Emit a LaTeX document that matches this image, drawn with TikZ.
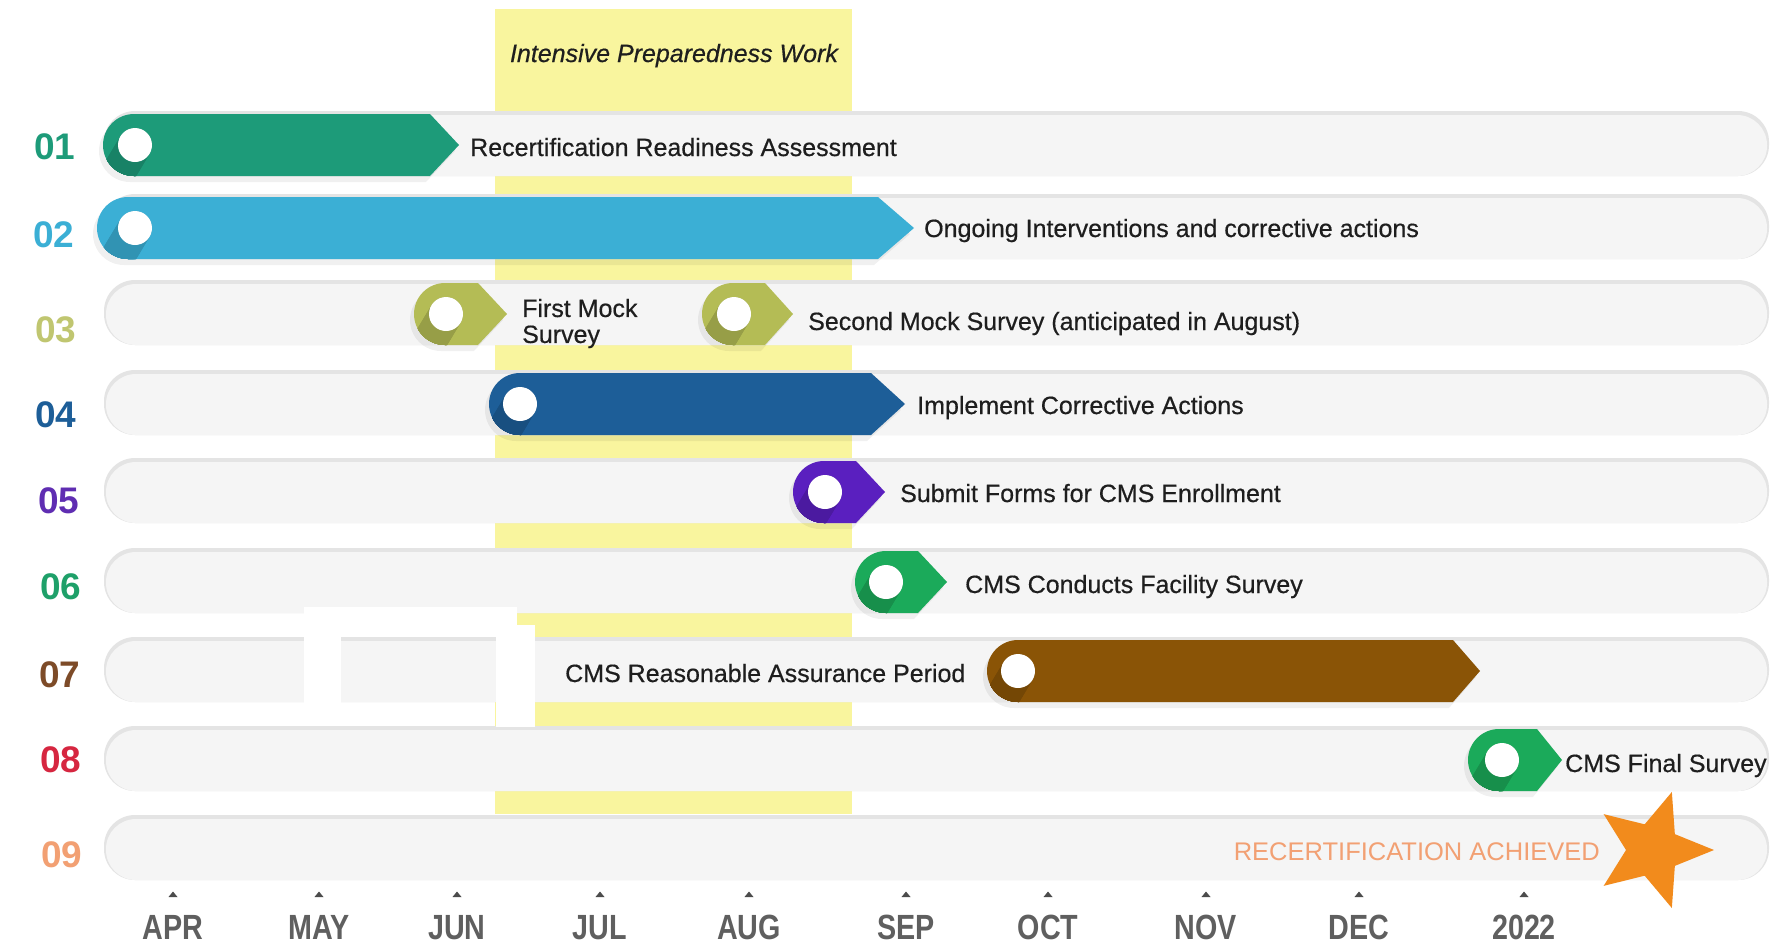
\documentclass[tikz,border=0pt]{standalone}
\usepackage{fontspec}
\setmainfont{Liberation Sans}
\newfontfamily\medfont[FakeBold=0.5]{Liberation Sans}
\usepackage{graphicx}
\definecolor{c1}{RGB}{29,155,121}
\definecolor{c2}{RGB}{59,175,213}
\definecolor{c3}{RGB}{180,188,85}
\definecolor{n3}{RGB}{192,198,112}
\definecolor{c4}{RGB}{29,94,152}
\definecolor{c5}{RGB}{90,31,191}
\definecolor{n5}{RGB}{95,45,178}
\definecolor{c6}{RGB}{27,170,90}
\definecolor{n6}{RGB}{30,160,105}
\definecolor{c7}{RGB}{138,84,6}
\definecolor{n7}{RGB}{125,75,40}
\definecolor{n8}{RGB}{214,38,64}
\definecolor{n9}{RGB}{242,160,115}
\definecolor{starc}{RGB}{242,139,28}
\definecolor{band}{RGB}{249,245,158}
\definecolor{track}{RGB}{245,245,245}
\definecolor{trackedge}{RGB}{228,228,228}
\definecolor{txt}{RGB}{30,30,30}
\definecolor{month}{RGB}{95,95,95}
\newcommand\barpath[4]{(#1+31,#4-31) -- (#2,#4-31) -- (#3,#4) -- (#2,#4+31) -- (#1+31,#4+31) arc[start angle=270,end angle=90,radius=31pt] -- cycle}
% color, xL, xFlat, xTip, cy, circle x
\newcommand\tlbar[6]{%
  \begin{scope}[shift={(-4,6)}]\fill[black,opacity=0.06] \barpath{#2}{#3}{#4}{#5};\end{scope}
  \fill[#1] \barpath{#2}{#3}{#4}{#5};
  \begin{scope}
    \clip \barpath{#2}{#3}{#4}{#5};
    \foreach \t in {0,2,...,30} \fill[#1!84!black] ({#6-0.6*\t},{#5+\t}) circle[radius=17pt];
  \end{scope}
  \fill[white] (#6,#5) circle[radius=17pt];
}
\begin{document}
\begin{tikzpicture}[x=1pt,y=-1pt,
  rowtext/.style={anchor=base west, text=txt, font=\medfont\fontsize{25}{26}\selectfont, inner sep=0pt},
  numlabel/.style={anchor=base, font=\fontsize{37}{37}\selectfont\bfseries, inner sep=0pt},
  monthlabel/.style={anchor=base, text=month, font=\fontsize{35}{35}\selectfont\bfseries, inner sep=0pt},
  tick/.style={fill=month!80!black},
  blank/.style={fill=white}]
\useasboundingbox (0,0) rectangle (1785,948);
\fill[white] (0,0) rectangle (1785,948);
% yellow band
\fill[band] (495,9) rectangle (852,814);
\node[anchor=base, text=txt, font=\medfont\fontsize{25}{26}\selectfont\itshape, inner sep=0pt] (band) at (674,62) {Intensive Preparedness Work};
% tracks
\foreach \y in {145,228,314,404,492,582,671,760,849} {
  \fill[trackedge, rounded corners=31pt] (104,\y-34) rectangle (1769,\y+31);
  \fill[track, rounded corners=30pt] (106,\y-30) rectangle (1767,\y+31);
}
% bars and markers
\tlbar{c1}{103}{430}{459}{145}{135}
\tlbar{c2}{97}{878}{914}{228}{135}
\tlbar{c3}{414}{478}{507}{314}{446}
\tlbar{c3}{702}{765}{793}{314}{734}
\tlbar{c4}{489}{871}{905}{404}{520}
\tlbar{c5}{793}{856}{885}{492}{825}
\tlbar{c6}{855}{918}{947}{582}{886}
\tlbar{c7}{987}{1453}{1480}{671}{1018}
\tlbar{c6}{1468}{1537}{1562}{760}{1502}
% star
\fill[starc, shift={(1653,850)}] (0:61) -- (36:27) -- (72:61) -- (108:27) -- (144:61) -- (180:27) -- (216:61) -- (252:27) -- (288:61) -- (324:27) -- cycle;
% row numbers
\node[numlabel, text=c1] (n01) at (55,159) {01};
\node[numlabel, text=c2] (n02) at (54,247) {02};
\node[numlabel, text=n3] (n03) at (56,342) {03};
\node[numlabel, text=c4] (n04) at (56,427) {04};
\node[numlabel, text=n5] (n05) at (59,513) {05};
\node[numlabel, text=n6] (n06) at (61,599) {06};
\node[numlabel, text=n7] (n07) at (60,687) {07};
\node[numlabel, text=n8] (n08) at (61,772) {08};
\node[numlabel, text=n9] (n09) at (62,867) {09};
% row texts
\node[rowtext] (t01) at (470,156) {Recertification Readiness Assessment};
\node[rowtext] (t02) at (924,237) {Ongoing Interventions and corrective actions};
\node[rowtext, anchor=west, align=left] (t03a) at (522,323.5) {First Mock\\Survey};
\node[rowtext] (t03b) at (808,330) {Second Mock Survey (anticipated in August)};
\node[rowtext] (t04) at (917,414) {Implement Corrective Actions};
\node[rowtext] (t05) at (900,502) {Submit Forms for CMS Enrollment};
\node[rowtext] (t06) at (965,593) {CMS Conducts Facility Survey};
\node[rowtext] (t07) at (565,682) {CMS Reasonable Assurance Period};
\node[rowtext] (t08) at (1565,772) {CMS Final Survey};
\node[anchor=base east, text=n9, font=\fontsize{25.5}{26}\selectfont, inner sep=0pt] (t09) at (1600,860) {RECERTIFICATION ACHIEVED};
% white patches
\fill[blank] (304,607) rectangle (341,703);
\fill[blank] (317,607) rectangle (517,637);
\fill[blank] (496,625) rectangle (535,727);
% months
\foreach \x/\m/\nm in {173/APR/apr,319/MAY/may,457/JUN/jun,600/JUL/jul,749/AUG/aug,906/SEP/sep,1048/OCT/oct,1206/NOV/nov,1359/DEC/dec,1524/2022/yr} {
  \fill[tick] (\x-4.5,897) -- (\x+4.5,897) -- (\x,891.5) -- cycle;
  \node[monthlabel] (m\nm) at (\x,939) {\scalebox{0.82}[1]{\m}};
}
\end{tikzpicture}
\end{document}
